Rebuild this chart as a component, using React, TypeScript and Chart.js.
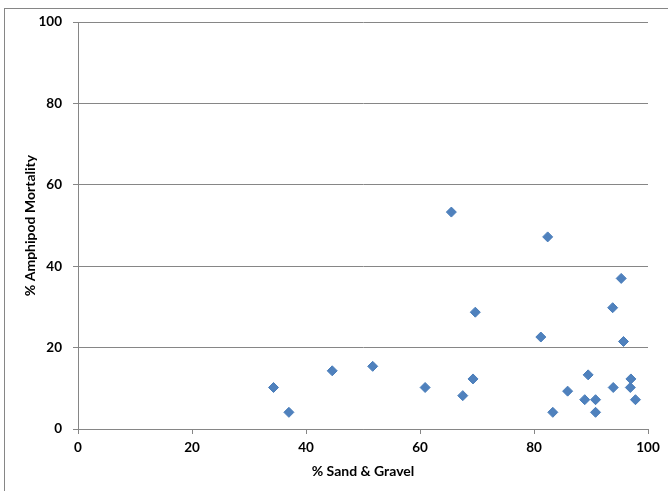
import React, { useEffect, useRef } from "react";
import { Chart, registerables } from "chart.js";

Chart.register(...registerables);

const sandGravel = [34.3, 37.0, 44.6, 51.7, 60.9, 65.5, 67.5, 69.3, 69.7, 81.2, 82.4, 83.3, 85.9, 88.9, 89.5, 90.8, 90.8, 93.8, 93.9, 95.3, 95.7, 96.9, 97.0, 97.8];
const mortality = [10.2, 4.1, 14.3, 15.4, 10.2, 53.3, 8.2, 12.3, 28.7, 22.6, 47.2, 4.1, 9.3, 7.2, 13.3, 7.2, 4.1, 29.8, 10.2, 37.0, 21.5, 10.2, 12.3, 7.2];
const xTitle = "% Sand & Gravel";
const yTitle = "% Amphipod Mortality";

const FONT = "Lato, 'Open Sans', sans-serif";
const AXIS_GRAY = "#868686";

const frame = {
  id: "frame",
  beforeDraw(chart: any) {
    const ctx = chart.ctx;
    ctx.save();
    ctx.fillStyle = "#ffffff";
    ctx.fillRect(0, 0, chart.width, chart.height);
    ctx.strokeStyle = AXIS_GRAY;
    ctx.lineWidth = 1;
    ctx.strokeRect(4.5, 8.5, chart.width + 20, chart.height + 20);
    ctx.restore();
  },
};

export default function App() {
  const ref = useRef<HTMLCanvasElement | null>(null);
  useEffect(() => {
    if (!ref.current) return;
    const points = sandGravel.map((x, i) => ({ x, y: mortality[i] }));
    const chart = new Chart(ref.current, {
      type: "scatter",
      data: {
        datasets: [
          {
            data: points,
            pointStyle: "rectRot",
            pointRadius: 5,
            pointBackgroundColor: "#4F81BD",
            pointBorderColor: "#4A7EBB",
            pointBorderWidth: 1,
          },
        ],
      },
      options: {
        responsive: false,
        animation: false,
        layout: { padding: { left: 0, right: 20, top: 22, bottom: 0 } },
        plugins: { legend: { display: false }, tooltip: { enabled: false } },
        scales: {
          x: {
            type: "linear",
            min: 0,
            max: 100,
            ticks: { stepSize: 20, color: "#000", font: { family: FONT, size: 13.5, weight: "bold" }, padding: 6, maxRotation: 0 },
            grid: { drawOnChartArea: false, drawTicks: true, tickLength: 5, color: AXIS_GRAY },
            border: { display: true, color: AXIS_GRAY, width: 1 },
            title: { display: true, text: xTitle, color: "#000", font: { family: FONT, size: 14, weight: "bold" }, padding: { top: 0, bottom: 11 } },
            afterFit: (s: any) => { s.height = 62; },
          },
          y: {
            type: "linear",
            min: 0,
            max: 100,
            ticks: { stepSize: 20, color: "#000", font: { family: FONT, size: 13.5, weight: "bold" }, padding: 11 },
            grid: { drawOnChartArea: true, drawTicks: true, tickLength: 5, color: AXIS_GRAY },
            border: { display: true, color: AXIS_GRAY, width: 1 },
            title: { display: true, text: yTitle, color: "#000", font: { family: FONT, size: 14, weight: "bold" }, padding: { top: 22, bottom: 0 } },
            afterFit: (s: any) => { s.width = 78; },
          },
        },
      },
      plugins: [frame],
    });
    return () => chart.destroy();
  }, []);
  return (
    <div style={{ position: "fixed", left: 0, top: 0, width: 668, height: 491 }}>
      <canvas ref={ref} width={668} height={491} style={{ display: "block" }} />
    </div>
  );
}
